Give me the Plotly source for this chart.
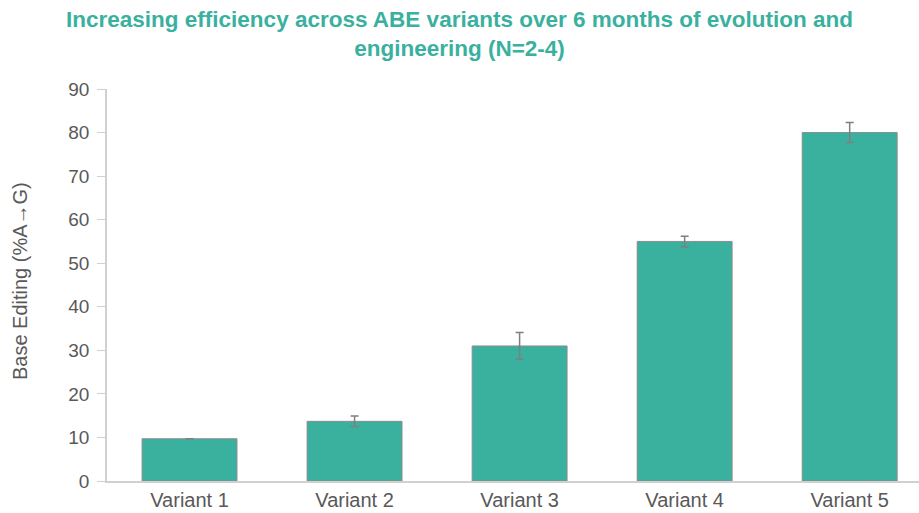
import plotly.graph_objects as go

categories = ["Variant 1", "Variant 2", "Variant 3", "Variant 4", "Variant 5"]
values = [9.7, 13.7, 31.0, 55.0, 80.0]
errors = [None, 1.2, 3.1, 1.2, 2.3]
y_ticks = [0, 10, 20, 30, 40, 50, 60, 70, 80, 90]

teal = "#3AB09F"
gray_text = "#595959"
axis_gray = "#D0D0D0"
FONT = "Liberation Sans, Arial, sans-serif"

fig = go.Figure(go.Bar(
    x=list(range(len(categories))),
    y=values,
    marker=dict(color=teal, line=dict(color="#8C8C8C", width=1)),
    error_y=dict(type="data", array=errors, visible=True, color="#7F7F7F", thickness=1.5, width=4),
    width=0.575,
))

fig.update_layout(
    width=919, height=513,
    paper_bgcolor="white", plot_bgcolor="white",
    margin=dict(l=107, r=0, t=89, b=32, autoexpand=False),
    showlegend=False,
    font=dict(family=FONT, color=gray_text, size=15),
    title=dict(
        text="Increasing efficiency across ABE variants over 6 months of evolution and<br>engineering (N=2-4)",
        x=0.5, xanchor="center", xref="container", y=1 - 27 / 513, yanchor="middle",
        font=dict(family=FONT, size=22.5, color=teal, weight="bold"),
    ),
    annotations=[dict(
        text="Base Editing (%A\u2192G)", textangle=-90,
        xref="paper", yref="paper", x=(20 - 107) / 812, y=0.51,
        xanchor="center", yanchor="middle", showarrow=False,
        font=dict(family=FONT, size=20, color=gray_text),
    )],
)
fig.update_xaxes(
    tickmode="array", tickvals=list(range(len(categories))), ticktext=categories,
    range=[-0.5, 4.42], showline=True, linecolor=axis_gray, linewidth=1.5,
    ticks="", showgrid=False, zeroline=False, automargin=False,
    tickfont=dict(size=20, color=gray_text),
)
fig.update_yaxes(
    range=[0, 90], tickmode="array", tickvals=y_ticks,
    showline=True, linecolor=axis_gray, linewidth=1.5,
    ticks="outside", ticklen=8, tickcolor=axis_gray, tickwidth=1,
    ticklabelstandoff=4,
    showgrid=False, zeroline=False, automargin=False,
    tickfont=dict(size=19, color=gray_text),
)

fig.write_html(
    "out.html",
    config={"displayModeBar": False},
    post_script="document.body.style.margin='0';document.body.style.overflow='hidden';",
)
